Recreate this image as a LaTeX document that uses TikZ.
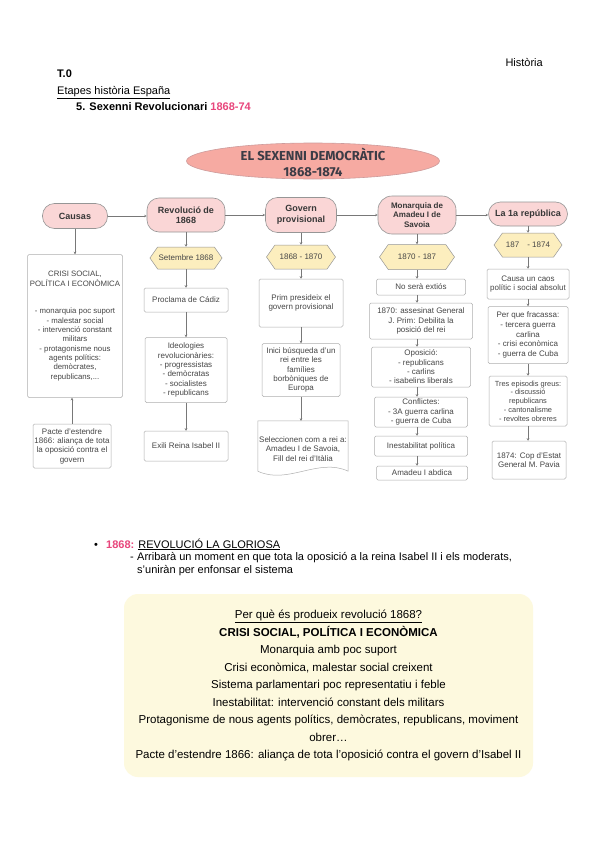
\documentclass[tikz,border=0pt]{standalone}
\usepackage{fontspec}
\setmainfont{Liberation Sans}
\newfontfamily\titlefont{Fira Sans}
\usetikzlibrary{arrows.meta,shapes.geometric,shapes.symbols}
\definecolor{pinktxt}{RGB}{232,70,124}
\definecolor{pillfill}{RGB}{250,214,214}
\definecolor{hexfill}{RGB}{252,238,190}
\definecolor{edgegray}{RGB}{150,150,150}
\definecolor{boxedge}{RGB}{175,175,175}
\definecolor{txtgray}{RGB}{70,70,70}
\definecolor{pilltxt}{RGB}{55,55,55}
\definecolor{ovalfill}{RGB}{246,170,162}
\definecolor{ovaledge}{RGB}{205,155,155}
\definecolor{titletxt}{RGB}{60,60,70}
\definecolor{notefill}{RGB}{253,249,222}
\definecolor{arrowgray}{RGB}{120,120,120}
\tikzset{
  txt/.style={inner sep=0pt, text=black, font=\fontsize{11}{13}\selectfont},
  pill/.style={draw=edgegray, fill=pillfill, rounded corners=12pt, align=center, font=\fontsize{9}{10.5}\selectfont\bfseries, text=pilltxt, inner sep=1pt, line width=0.6pt},
  hexa/.style={draw=edgegray, fill=hexfill, signal, signal to=east and west, signal pointer angle=110, align=center, font=\fontsize{8}{9.3}\selectfont, text=txtgray, inner sep=1pt, line width=0.5pt},
  infobox/.style={draw=boxedge, fill=white, rounded corners=1.5pt, align=center, font=\fontsize{8}{9.3}\selectfont, text=txtgray, inner sep=1pt, line width=0.5pt},
  link/.style={draw=arrowgray, line width=0.5pt, -{Stealth[length=2.5pt,width=2.5pt]}},
  notebox/.style={fill=notefill, rounded corners=14pt, minimum width=409, minimum height=183, align=center, font=\fontsize{11.5}{17.5}\selectfont, text=black, inner sep=0pt},
}
\begin{document}
\begin{tikzpicture}[x=1pt,y=-1pt]
\useasboundingbox (0,0) rectangle (599,848);
\fill[white] (0,0) rectangle (599,848);
% header
\node[txt, anchor=base east] (hist) at (543,67) {Història};
\node[txt, anchor=base west, font=\fontsize{11}{13}\selectfont\bfseries] (t0) at (57,78) {T.0};
\node[txt, anchor=base west] (etapes) at (57,95) {\underline{Etapes història España}};
\node[txt, anchor=base west, font=\fontsize{11}{13}\selectfont\bfseries] (sexenni) at (76,111) {5. Sexenni Revolucionari \textcolor{pinktxt}{1868-74}};
% title
\filldraw[fill=ovalfill, draw=ovaledge, line width=0.6pt] (313,161) ellipse [x radius=126.5, y radius=18];
\node[inner sep=0pt, align=center, text=titletxt, font=\titlefont\fontsize{13}{16}\selectfont\bfseries] (title) at (313,162) {EL SEXENNI DEMOCRÀTIC\\1868-1874};
% top row
\node[pill, minimum width=65, minimum height=25] (causas) at (75,216) {Causas};
\node[pill, minimum width=78, minimum height=34] (revol) at (186,215) {Revolució de\\1868};
\node[pill, minimum width=71, minimum height=35] (govern) at (301,215) {Govern\\provisional};
\node[pill, minimum width=78, minimum height=38, rounded corners=14pt, font=\fontsize{8}{9.5}\selectfont\bfseries] (monarq) at (417,215) {Monarquia de\\Amadeu I de\\Savoia};
\node[pill, minimum width=79, minimum height=24] (repub) at (528,214) {La 1a república};
\draw[link] (causas.east) -- (causas.east -| revol.west);
\draw[link] (revol.east) -- (revol.east -| govern.west);
\draw[link] (govern.east) -- (govern.east -| monarq.west);
\draw[link] (monarq.east) -- (monarq.east -| repub.west);
% hexagons
\node[hexa, minimum width=71, minimum height=22] (hexrev) at (186,258) {Setembre 1868};
\node[hexa, minimum width=69, minimum height=24] (hexgov) at (301,257) {1868 - 1870};
\node[hexa, minimum width=75, minimum height=25] (hexmon) at (417,257) {1870 - 187};
\node[hexa, minimum width=68, minimum height=24] (hexrep) at (528,245) {187\hspace{8pt}- 1874};
% Causas column
\node[infobox, minimum width=95, minimum height=143, font=\fontsize{7.8}{9.3}\selectfont] (crisi) at (75,326) {CRISI SOCIAL,\\POLÍTICA I ECONÒMICA\\[18.6pt]- monarquia poc suport\\- malestar social\\- intervenció constant\\militars\\- protagonisme nous\\agents polítics:\\demòcrates,\\republicans,...};
\node[infobox, minimum width=78, minimum height=44] (pacte) at (72,446) {Pacte d'estendre\\1866: aliança de tota\\la oposició contra el\\govern};
\draw[link] (causas.south) -- (causas.south |- crisi.north);
\draw[link] (pacte.north) -- (pacte.north |- crisi.south);
% Revolucio column
\node[infobox, minimum width=84, minimum height=24] (proclama) at (186,300) {Proclama de Cádiz};
\node[infobox, minimum width=82, minimum height=65] (ideol) at (186,370) {Ideologies\\revolucionàries:\\- progressistas\\- demòcratas\\- socialistes\\- republicans};
\node[infobox, minimum width=84, minimum height=30] (exili) at (186,446) {Exili Reina Isabel II};
\draw[link] (revol.south) -- (revol.south |- hexrev.north);
\draw[link] (hexrev.south) -- (hexrev.south |- proclama.north);
\draw[link] (proclama.south) -- (proclama.south |- ideol.north);
\draw[link] (ideol.south) -- (ideol.south |- exili.north);
% Govern column
\node[infobox, minimum width=84, minimum height=48] (prim) at (301,303) {Prim presideix el\\govern provisional};
\node[infobox, minimum width=78, minimum height=53] (inici) at (301,370) {Inici búsqueda d'un\\rei entre les\\famílies\\borbòniques de\\Europa};
\node[inner sep=1pt, minimum width=90, minimum height=44, align=center, font=\fontsize{8}{9.3}\selectfont, text=txtgray] (selecc) at (303,449) {Seleccionen com a rei a:\\Amadeu I de Savoia,\\Fill del rei d'Itàlia};
\draw[boxedge, line width=0.5pt] ([yshift=6pt]selecc.north west) -- ([yshift=6pt]selecc.north east) -- (selecc.south east) .. controls +(-30,-14) and +(30,14) .. (selecc.south west) -- cycle;
\draw[link] (govern.south) -- (govern.south |- hexgov.north);
\draw[link] (hexgov.south) -- (hexgov.south |- prim.north);
\draw[link] (prim.south) -- (prim.south |- inici.north);
\draw[link] (inici.south) -- ([yshift=6pt]inici.south |- selecc.north);
% Monarquia column
\node[infobox, minimum width=89, minimum height=16] (nosera) at (421,287) {No serà extiós};
\node[infobox, minimum width=103, minimum height=36] (assass) at (421,321) {1870: assesinat General\\J. Prim: Debilita la\\posició del rei};
\node[infobox, minimum width=99, minimum height=40] (oposi) at (421,367) {Oposició:\\- republicans\\- carlins\\- isabelins liberals};
\node[infobox, minimum width=93, minimum height=30] (conflic) at (421,412) {Conflictes:\\- 3A guerra carlina\\- guerra de Cuba};
\node[infobox, minimum width=93, minimum height=20] (inest) at (421,446) {Inestabilitat política};
\node[infobox, minimum width=91, minimum height=14] (abdica) at (422,473) {Amadeu I abdica};
\draw[link] (monarq.south) -- (monarq.south |- hexmon.north);
\draw[link] (hexmon.south) -- (hexmon.south |- nosera.north);
\draw[link] (hexmon.south |- nosera.south) -- (hexmon.south |- assass.north);
\draw[link] (hexmon.south |- assass.south) -- (hexmon.south |- oposi.north);
\draw[link] (hexmon.south |- oposi.south) -- (hexmon.south |- conflic.north);
\draw[link] (hexmon.south |- conflic.south) -- (hexmon.south |- inest.north);
\draw[link] (hexmon.south |- inest.south) -- (hexmon.south |- abdica.north);
% Republica column
\node[infobox, minimum width=82, minimum height=30, font=\fontsize{8}{9}\selectfont] (caos) at (528,284) {Causa un caos\\polític i social absolut};
\node[infobox, minimum width=80, minimum height=57, font=\fontsize{8}{9.7}\selectfont] (fracassa) at (528,335) {Per que fracassa:\\- tercera guerra\\carlina\\- crisi econòmica\\- guerra de Cuba};
\node[infobox, minimum width=78, minimum height=50, font=\fontsize{7.4}{8.7}\selectfont] (tres) at (528,401) {Tres episodis greus:\\- discussió\\republicans\\- cantonalisme\\- revoltes obreres};
\node[infobox, minimum width=74, minimum height=38] (cop) at (529,460) {1874: Cop d'Estat\\General M. Pavia};
\draw[link] (repub.south) -- (repub.south |- hexrep.north);
\draw[link] (hexrep.south) -- (hexrep.south |- caos.north);
\draw[link] (caos.south) -- (caos.south |- fracassa.north);
\draw[link] (fracassa.south) -- (fracassa.south |- tres.north);
\draw[link] (tres.south) -- (tres.south |- cop.north);
% bullet section
\node[txt, anchor=base] (bul) at (96,548) {•};
\node[txt, anchor=base west] (glor) at (106,548) {\textcolor{pinktxt}{\bfseries 1868:} \underline{REVOLUCIÓ LA GLORIOSA}};
\node[txt, anchor=base west] (dash) at (130,560) {-};
\node[txt, anchor=base west] (arr1) at (137,560) {Arribarà un moment en que tota la oposició a la reina Isabel II i els moderats,};
\node[txt, anchor=base west] (arr2) at (137,573) {s'uniràn per enfonsar el sistema};
% note box
\node[notebox] (nota) at (328.5,685.5) {\underline{Per què és produeix revolució 1868?}\\
\textbf{CRISI SOCIAL, POLÍTICA I ECONÒMICA}\\
Monarquia amb poc suport\\
Crisi econòmica, malestar social creixent\\
Sistema parlamentari poc representatiu i feble\\
Inestabilitat: intervenció constant dels militars\\
Protagonisme de nous agents polítics, demòcrates, republicans, moviment\\
obrer…\\
Pacte d'estendre 1866: aliança de tota l'oposició contra el govern d'Isabel II};
\end{tikzpicture}
\end{document}
